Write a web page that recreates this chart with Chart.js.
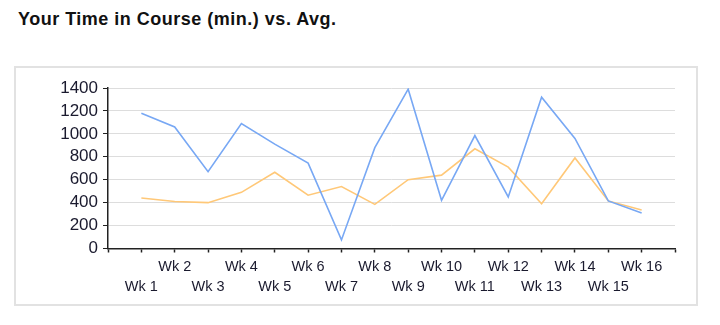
<!DOCTYPE html>
<html>
<head>
<meta charset="utf-8">
<script src="https://cdn.jsdelivr.net/npm/chart.js@4"></script>
<style>
  html, body { margin: 0; padding: 0; background: #fff; }
  body { width: 720px; height: 325px; position: relative; overflow: hidden; }
  #title { position: absolute; left: 18px; top: 9px; font: bold 18px "Liberation Sans", Arial, sans-serif; letter-spacing: 0.5px; color: #111; white-space: nowrap; }
  #frame { position: absolute; left: 14px; top: 66px; width: 680px; height: 236px; border: 2px solid #e2e2e2; }
  #c { position: absolute; left: 0; top: 0; }
</style>
</head>
<body>
<div id="title">Your Time in Course (min.) vs. Avg.</div>
<div id="frame"></div>
<canvas id="c" width="720" height="325"></canvas>
<script>
const weeks = ['Wk 1','Wk 2','Wk 3','Wk 4','Wk 5','Wk 6','Wk 7','Wk 8','Wk 9','Wk 10','Wk 11','Wk 12','Wk 13','Wk 14','Wk 15','Wk 16'];
const yourTime = [1180, 1060, 670, 1090, 910, 745, 75, 880, 1390, 420, 985, 450, 1320, 960, 415, 310];
const avgTime = [440, 410, 400, 490, 665, 465, 540, 385, 600, 640, 870, 710, 390, 790, 415, 335];
const yTicks = [0, 200, 400, 600, 800, 1000, 1200, 1400];

const labels = [''].concat(weeks, ['']);
const pad = arr => [null].concat(arr, [null]);

new Chart(document.getElementById('c'), {
  type: 'line',
  data: {
    labels: labels,
    datasets: [
      { label: 'You', data: pad(yourTime), borderColor: '#78a8f4', borderWidth: 1.6, pointRadius: 0, tension: 0, fill: false },
      { label: 'Avg', data: pad(avgTime), borderColor: '#ffc878', borderWidth: 1.6, pointRadius: 0, tension: 0, fill: false }
    ]
  },
  options: {
    responsive: false,
    animation: false,
    events: [],
    layout: { padding: { left: 0, right: 45, top: 88, bottom: 0 } },
    plugins: { legend: { display: false }, tooltip: { enabled: false }, title: { display: false } },
    scales: {
      x: {
        type: 'category',
        offset: false,
        afterFit: s => { s.height = 76.5; },
        border: { display: true, color: '#222', width: 1.5 },
        grid: { drawOnChartArea: false, tickLength: 4, tickColor: '#222', tickWidth: 1.5 },
        ticks: {
          autoSkip: false, maxRotation: 0, minRotation: 0, padding: 4,
          color: '#1a1a2e',
          font: { family: '"Liberation Sans", Arial, sans-serif', size: 14.5, lineHeight: 1.38 },
          callback: function (v, i) {
            const l = labels[i];
            if (!l) return '';
            return i % 2 === 0 ? [l, ''] : ['', l];
          }
        }
      },
      y: {
        min: 0, max: 1400,
        afterFit: s => { s.width = 108; },
        afterBuildTicks: s => { s.ticks = yTicks.map(v => ({ value: v })); },
        border: { display: true, color: '#222', width: 1.5 },
        grid: { color: '#dddddd', lineWidth: 1, tickLength: 5, tickColor: '#222' },
        ticks: {
          autoSkip: false,
          padding: 5,
          color: '#1a1a2e',
          font: { family: '"Liberation Sans", Arial, sans-serif', size: 17 },
          callback: v => String(v)
        }
      }
    }
  }
});
</script>
</body>
</html>
